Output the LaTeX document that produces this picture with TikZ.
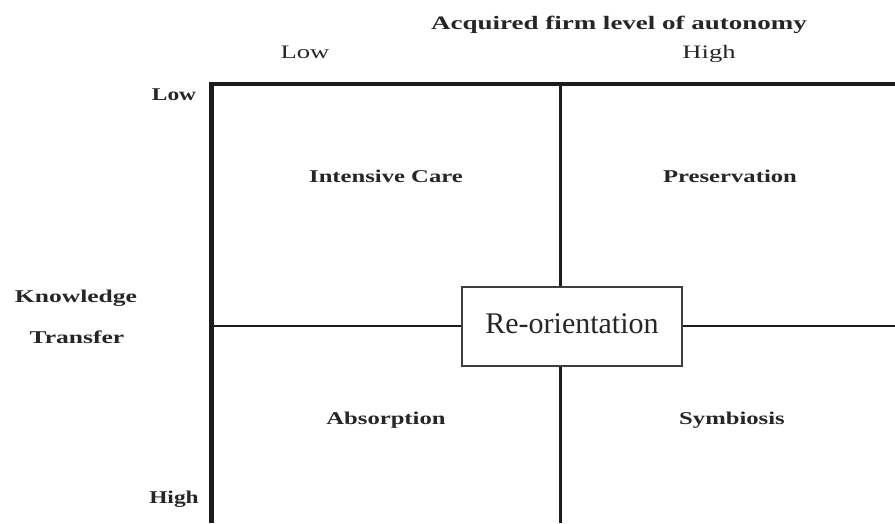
\documentclass[tikz,border=0pt]{standalone}
\usepackage{fontspec}
\usepackage{graphicx}
\setmainfont{Liberation Serif}
\definecolor{ink}{HTML}{1C1C1C}
\definecolor{textink}{HTML}{262626}
% horizontally widened text
\newcommand{\stretchx}[2]{\scalebox{#1}[1]{#2}}

\begin{document}
\begin{tikzpicture}[x=1pt,y=-1pt,
  axis/.style={line width=4.5pt, draw=ink, line join=miter},
  divider/.style={line width=2.2pt, draw=ink},
  cell/.style={anchor=base, inner sep=0pt, text=textink,
    font=\fontsize{18}{18}\selectfont\bfseries},
  level/.style={anchor=base, inner sep=0pt, text=textink,
    font=\fontsize{19}{19}\selectfont},
  heading/.style={anchor=base, inner sep=0pt, text=textink,
    font=\fontsize{19}{19}\selectfont\bfseries},
  centrebox/.style={draw=ink!85, line width=1.3pt, fill=white,
    minimum width=220pt, minimum height=79pt, inner sep=0pt,
    text height=20pt, text depth=7pt, text=textink,
    font=\fontsize{30}{30}\selectfont}]
\useasboundingbox (0,0) rectangle (895,523);

% axes of the matrix
\coordinate (xend) at (895,84);
\coordinate (corner) at (211.5,84);
\coordinate (yend) at (211.5,523);
\draw[axis] (xend) -- (corner) -- (yend);

% central box
\node[centrebox] (box) at (572,326.5) {Re-orientation};

% dividers between the quadrants
\coordinate (vtop) at (560.5,84);
\coordinate (vbot) at (560.5,523);
\coordinate (hleft) at (211.5,326);
\coordinate (hright) at (895,326);
\draw[divider] (vtop) -- (vtop |- box.north);
\draw[divider] (vtop |- box.south) -- (vbot);
\draw[divider] (hleft) -- (hleft -| box.west);
\draw[divider] (hleft -| box.east) -- (hright);

% axis titles and levels
\node[heading] (autonomy) at (619,29) {\stretchx{1.42}{Acquired firm level of autonomy}};
\node[level] (lowx) at (305,58) {\stretchx{1.4}{Low}};
\node[level] (highx) at (709,58) {\stretchx{1.4}{High}};
\node[cell] (lowy) at (174,100) {\stretchx{1.3}{Low}};
\node[cell] (highy) at (174,503) {\stretchx{1.3}{High}};
\node[cell] (knowledge) at (76,302) {\stretchx{1.42}{Knowledge}};
\node[cell] (transfer) at (77,343) {\stretchx{1.42}{Transfer}};

% quadrant labels
\node[cell] (care) at (386,182) {\stretchx{1.37}{Intensive Care}};
\node[cell] (preservation) at (730,182) {\stretchx{1.37}{Preservation}};
\node[cell] (absorption) at (386,424) {\stretchx{1.37}{Absorption}};
\node[cell] (symbiosis) at (732,424) {\stretchx{1.37}{Symbiosis}};
\end{tikzpicture}
\end{document}
